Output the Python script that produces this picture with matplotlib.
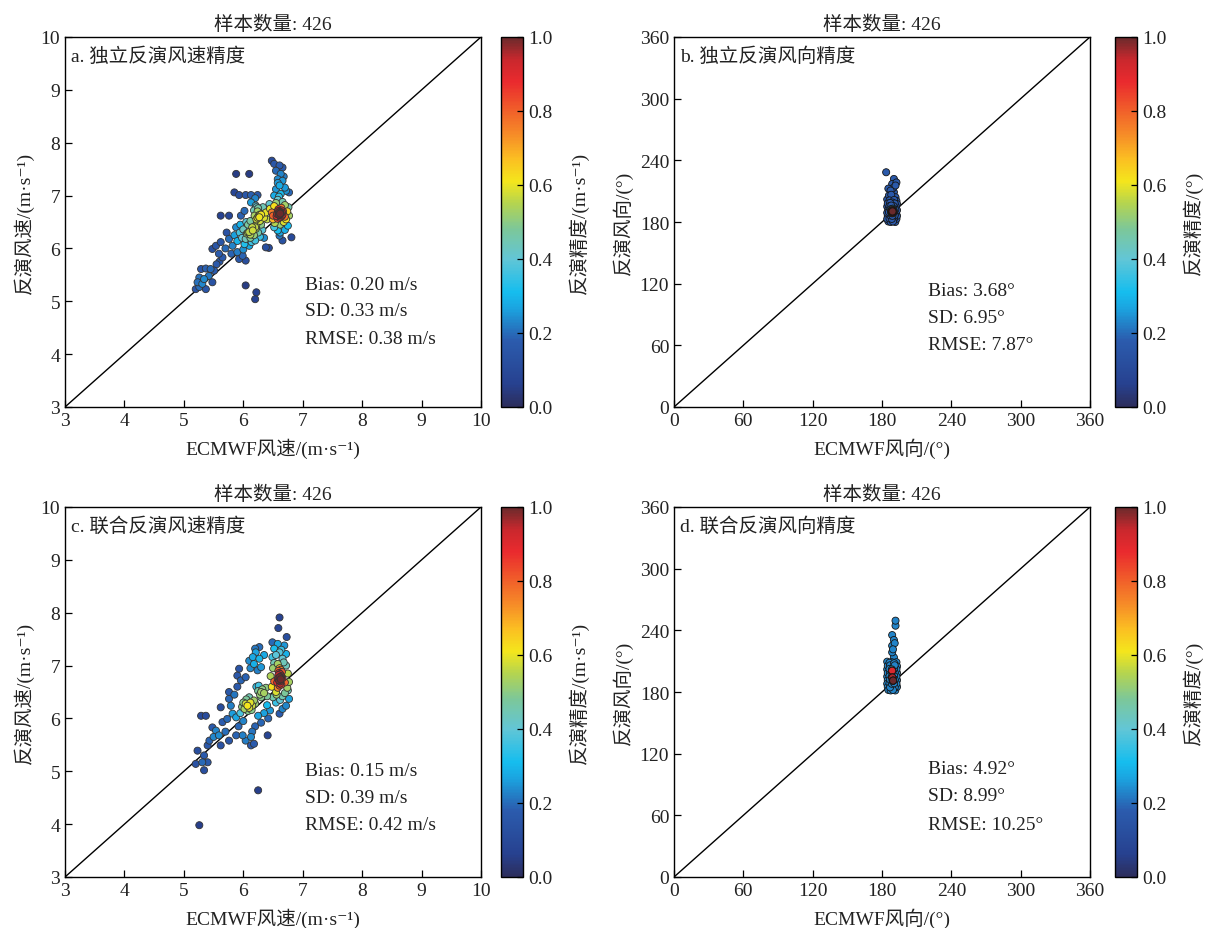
import numpy as np
import matplotlib
matplotlib.use("Agg")
import matplotlib.pyplot as plt
from matplotlib.colors import LinearSegmentedColormap, Normalize
from matplotlib.cm import ScalarMappable

plt.rcParams['font.family'] = ['Liberation Serif', 'DejaVu Serif', 'Noto Sans CJK SC']
plt.rcParams['axes.unicode_minus'] = False

# ---------------- data ----------------
# panel a: independent retrieval, wind speed (ECMWF, retrieved)
a_pts = [
    # red core
    (6.60,6.68),(6.62,6.66),(6.58,6.70),(6.64,6.72),(6.61,6.63),(6.57,6.65),(6.65,6.68),(6.63,6.60),
    (6.59,6.74),(6.66,6.64),(6.60,6.71),(6.62,6.69),(6.56,6.61),(6.67,6.70),(6.61,6.58),(6.64,6.77),
    (6.58,6.56),(6.63,6.66),(6.60,6.64),(6.65,6.62),
    # ring
    (6.52,6.80),(6.70,6.82),(6.50,6.55),(6.72,6.55),(6.55,6.86),(6.68,6.50),(6.48,6.68),(6.74,6.70),
    (6.53,6.48),(6.66,6.88),(6.58,6.92),(6.70,6.60),(6.50,6.62),(6.62,6.45),(6.45,6.75),(6.76,6.78),
    # top column
    (6.48,7.66),(6.52,7.60),(6.61,7.57),(6.66,7.53),(6.55,7.47),(6.63,7.41),(6.58,7.31),(6.66,7.28),
    (6.61,7.19),(6.55,7.12),(6.72,7.09),(6.77,7.06),(6.63,7.03),(6.52,7.00),(6.68,7.36),(6.58,7.24),
    (6.70,7.15),(6.60,6.98),
    # right side
    (6.77,6.62),(6.75,6.43),(6.81,6.21),(6.61,6.24),(6.66,6.15),(6.58,6.34),(6.70,6.35),(6.52,6.40),(6.62,6.30),
    # yellow area
    (6.21,6.81),(6.27,6.59),(6.24,6.70),(6.30,6.64),(6.19,6.62),(6.25,6.76),(6.28,6.52),(6.33,6.78),
    (6.38,6.68),(6.44,6.84),(6.13,6.87),(6.02,6.71),(5.96,6.62),(6.22,6.55),(6.35,6.58),(6.18,6.72),
    (6.40,6.55),(6.30,6.45),(6.26,6.62),(6.24,6.58),(6.28,6.64),(6.22,6.78),
    # green body
    (6.10,6.31),(6.21,6.37),(6.04,6.18),(6.12,6.20),(6.15,6.40),(6.06,6.28),(6.25,6.30),(6.00,6.36),
    (6.18,6.25),(6.08,6.45),(5.98,6.20),(6.22,6.45),(6.14,6.12),(6.02,6.08),(6.28,6.22),(5.94,6.30),
    (6.12,6.52),(6.05,6.50),(6.20,6.15),(6.32,6.35),(5.90,6.14),(6.00,5.98),(6.35,6.20),(6.10,6.05),(5.95,6.45),
    (6.08,6.30),(6.16,6.34),(6.12,6.26),(6.20,6.40),
    # lower-left band
    (5.48,5.99),(5.54,6.05),(5.59,5.90),(5.65,5.83),(5.76,6.18),(5.82,6.05),(5.90,5.93),(5.93,5.80),
    (5.99,5.86),(6.04,5.77),(6.38,6.02),(6.43,6.01),(5.70,6.00),(5.85,6.25),(5.80,5.90),(5.88,6.40),
    (5.72,6.30),(5.62,6.12),
    # row near 7.0
    (5.85,7.06),(5.93,7.01),(6.04,7.01),(6.13,7.01),(6.24,7.01),(6.20,6.95),
    # outliers
    (5.88,7.41),(6.10,7.41),(5.62,6.62),(5.76,6.62),(6.04,5.30),(6.22,5.17),(6.20,5.04),
    # lower tail
    (5.29,5.61),(5.37,5.62),(5.45,5.61),(5.51,5.58),(5.26,5.45),(5.34,5.42),(5.23,5.36),(5.31,5.33),
    (5.48,5.36),(5.26,5.27),(5.37,5.23),(5.20,5.23),(5.42,5.48),(5.55,5.70),(5.60,5.75),
]

# panel b: independent retrieval, wind direction
b_pts = [
    (183.6,228.4),(190.3,221.9),(188.8,217.0),(191.7,215.5),(187.4,210.6),(190.3,209.0),(186.0,205.8),
    (191.7,204.1),(185.5,212.5),(189.5,213.0),(192.5,218.5),(188.0,206.5),
    # dense block
    (184.5,202.0),(186.5,201.0),(188.5,202.5),(190.5,201.5),(192.5,200.5),(185.0,198.0),(187.0,198.5),
    (189.0,199.0),(191.0,198.0),(193.0,197.5),(184.5,195.0),(186.5,195.5),(188.0,196.0),(190.0,195.5),
    (192.0,195.0),(185.5,192.0),(187.5,192.5),(189.5,193.0),(191.5,192.0),(193.0,191.5),(184.5,189.0),
    (186.0,189.5),(188.0,189.0),(190.0,189.5),(192.0,189.0),(185.0,186.0),(187.0,186.5),(189.0,186.0),
    (191.0,186.5),(193.0,186.0),(184.5,183.0),(186.5,183.5),(188.5,183.0),(190.5,183.5),(192.5,183.0),
    (185.5,180.5),(187.5,180.0),(189.5,180.5),(191.5,180.0),
    # red core
    (188.8,190.0),(189.2,189.5),(188.5,190.8),(189.5,190.5),(188.9,189.0),(189.0,191.2),(188.3,189.8),
    (189.6,189.2),(188.7,191.5),(189.3,188.6),(188.6,188.5),(189.8,190.8),(188.2,191.0),(189.1,190.3),
    (188.4,192.2),(189.7,192.0),(190.2,191.0),(187.8,190.2),
]

# panel c: joint retrieval, wind speed
c_pts = [
    # red core
    (6.61,6.78),(6.63,6.74),(6.59,6.82),(6.62,6.70),(6.60,6.86),(6.64,6.80),(6.58,6.75),(6.62,6.66),
    (6.65,6.88),(6.60,6.72),(6.63,6.92),(6.57,6.68),(6.61,6.62),(6.66,6.76),(6.59,6.90),(6.62,6.84),
    (6.64,6.64),(6.58,6.58),(6.61,6.95),(6.63,6.78),
    # ring
    (6.50,6.95),(6.72,7.00),(6.48,6.60),(6.74,6.58),(6.52,7.05),(6.70,6.48),(6.46,6.80),(6.75,6.85),
    (6.55,6.50),(6.68,7.06),(6.52,6.70),(6.70,6.68),(6.56,6.45),(6.66,6.42),
    # upper right column
    (6.61,7.91),(6.59,7.71),(6.73,7.54),(6.49,7.44),(6.58,7.41),(6.69,7.38),(6.52,7.32),(6.61,7.25),
    (6.72,7.22),(6.49,7.16),(6.66,7.13),(6.58,7.03),(6.55,7.20),(6.64,7.30),
    # right
    (6.77,6.69),(6.75,6.53),(6.77,6.37),(6.72,6.24),(6.61,6.09),(6.66,6.18),(6.55,6.30),(6.62,6.35),(6.50,6.40),
    # upper left cluster
    (6.27,7.35),(6.21,7.25),(6.16,7.16),(6.27,7.13),(6.10,7.09),(6.18,7.03),(6.30,6.97),(6.24,6.91),
    (5.93,6.94),(5.90,6.81),(5.96,6.72),(6.04,6.78),(6.20,7.32),(6.35,7.20),(6.12,6.95),
    # yellow-green
    (6.30,6.50),(6.28,6.45),(6.32,6.55),(6.25,6.52),(6.35,6.48),(6.30,6.40),(6.38,6.58),(6.22,6.60),
    (6.40,6.42),(6.26,6.62),
    # green
    (6.07,6.24),(6.10,6.20),(6.04,6.28),(6.12,6.30),(6.02,6.18),(6.08,6.14),(6.15,6.24),(6.00,6.30),
    (6.05,6.36),(6.18,6.34),(6.14,6.16),(5.98,6.22),(6.20,6.28),(6.10,6.40),(5.95,6.10),
    # cyan spread
    (5.76,6.50),(5.76,6.37),(5.62,6.21),(5.79,6.24),(5.82,6.09),(5.65,5.93),(5.73,5.99),(5.88,6.02),
    (5.92,5.85),(6.00,5.95),(6.20,5.85),(6.25,6.05),(6.35,6.10),(6.40,6.25),(6.45,6.15),(6.30,5.92),
    (5.85,6.45),(5.90,6.60),(6.15,5.75),(6.42,6.00),
    # lower
    (5.29,6.05),(5.37,6.05),(5.48,5.83),(5.54,5.77),(5.59,5.68),(5.76,5.58),(5.88,5.68),(5.99,5.68),
    (6.04,5.58),(6.13,5.49),(6.18,5.52),(6.13,5.65),(6.41,5.68),(5.62,5.49),(5.43,5.58),(5.40,5.49),
    (5.23,5.39),(5.34,5.30),(5.31,5.17),(5.40,5.17),(5.34,5.02),(5.20,5.14),(5.50,5.65),(5.70,5.75),
    # outliers
    (6.25,4.64),(5.26,3.98),
]

# panel d: joint retrieval, wind direction
d_pts = [
    (191.7,249.4),(191.7,244.5),(188.8,235.4),(190.3,230.6),(188.8,225.0),(188.8,218.6),(190.3,213.7),
    (189.5,221.5),(191.0,227.5),
    # dense block
    (184.5,209.5),(186.5,208.5),(188.5,209.0),(190.5,208.0),(192.5,209.0),(185.0,205.5),(187.0,206.0),
    (189.0,205.0),(191.0,206.0),(193.0,205.0),(184.5,202.0),(186.5,202.5),(188.5,202.0),(190.5,202.5),
    (192.5,202.0),(185.0,198.5),(187.0,199.0),(189.0,198.0),(191.0,199.0),(193.0,198.5),(184.5,195.0),
    (186.5,195.5),(188.5,195.0),(190.5,195.5),(192.5,195.0),(185.0,191.5),(187.0,192.0),(189.0,191.5),
    (191.0,192.0),(193.0,191.5),(184.5,188.0),(186.5,188.5),(188.5,188.0),(190.5,188.5),(192.5,188.0),
    (185.0,185.0),(187.0,184.5),(189.0,185.0),(191.0,184.5),(193.0,185.0),(185.5,182.0),(187.5,181.5),
    (189.5,182.0),(191.5,181.5),
    # red spots
    (188.8,200.7),(189.0,200.5),(188.9,200.9),(189.0,194.0),(188.9,194.2),(189.1,193.9),(189.6,191.0),
    (189.5,190.8),(189.7,191.2),(188.9,200.6),(189.0,194.1),(189.6,191.1),
]

sample_n = 426
titles = ["a. 独立反演风速精度", "b. 独立反演风向精度", "c. 联合反演风速精度", "d. 联合反演风向精度"]
stats = [
    ["Bias: 0.20 m/s", "SD: 0.33 m/s", "RMSE: 0.38 m/s"],
    ["Bias: 3.68°", "SD: 6.95°", "RMSE: 7.87°"],
    ["Bias: 0.15 m/s", "SD: 0.39 m/s", "RMSE: 0.42 m/s"],
    ["Bias: 4.92°", "SD: 8.99°", "RMSE: 10.25°"],
]
speed_ticks = [3, 4, 5, 6, 7, 8, 9, 10]
dir_ticks = [0, 60, 120, 180, 240, 300, 360]
cbar_ticks = [0.0, 0.2, 0.4, 0.6, 0.8, 1.0]

# ---------------- style ----------------
cmap = LinearSegmentedColormap.from_list("dens", [
    (0.00, "#2c2d5c"), (0.06, "#27418f"), (0.18, "#2b5cae"), (0.27, "#1aa7e2"),
    (0.31, "#16bdee"), (0.40, "#62c6d6"), (0.48, "#7cc79a"), (0.55, "#b4d450"),
    (0.61, "#f4e61c"), (0.67, "#fbbf22"), (0.74, "#f68a28"), (0.81, "#f05a2a"),
    (0.88, "#ea2a2e"), (0.94, "#c9282d"), (1.00, "#6a2a2c"),
])
norm = Normalize(0, 1)
TXT = "#222222"
FS = 14


def density(x, y, bx, by):
    dx = (x[:, None] - x[None, :]) / bx
    dy = (y[:, None] - y[None, :]) / by
    d = np.exp(-0.5 * (dx ** 2 + dy ** 2)).sum(axis=1)
    return d / d.max()


fig = plt.figure(figsize=(12.07, 9.29), dpi=100)
W, H = 1207, 929

layout = [  # axes px box (left, top), colorbar left
    (65, 38, 501), (674, 38, 1115),
    (65, 508, 501), (674, 508, 1115),
]
panels = [
    (a_pts, "speed"), (b_pts, "dir"), (c_pts, "speed"), (d_pts, "dir"),
]
stat_pos = [
    (0.578, [0.332, 0.262, 0.184]),
    (0.61, [0.314, 0.242, 0.168]),
    (0.578, [0.289, 0.216, 0.143]),
    (0.61, [0.292, 0.219, 0.141]),
]

for i, ((pts, kind), (lx, ty, cbx)) in enumerate(zip(panels, layout)):
    ax = fig.add_axes([lx / W, 1 - (ty + 370) / H, 416 / W, 370 / H])
    cax = fig.add_axes([cbx / W, 1 - (ty + 370) / H, 22 / W, 370 / H])
    p = np.array(pts)
    x, y = p[:, 0], p[:, 1]
    if kind == "speed":
        dens = density(x, y, 0.12, 0.12)
        lo, hi, ticks = 3, 10, speed_ticks
        xl = "ECMWF风速/(m·s⁻¹)"
        yl = "反演风速/(m·s⁻¹)"
        cl = "反演精度/(m·s⁻¹)"
        ec = "#333333"
    else:
        dens = density(x, y, 0.6, 0.7)
        lo, hi, ticks = 0, 360, dir_ticks
        xl = "ECMWF风向/(°)"
        yl = "反演风向/(°)"
        cl = "反演精度/(°)"
        ec = "#151515"
    order = np.argsort(dens)
    ax.plot([lo, hi], [lo, hi], color="black", lw=1.0, zorder=1)
    ax.scatter(x[order], y[order], c=dens[order], cmap=cmap, norm=norm, s=26,
               edgecolors=ec, linewidths=0.6, zorder=2)
    ax.set_xlim(lo, hi)
    ax.set_ylim(lo, hi)
    ax.set_xticks(ticks)
    ax.set_yticks(ticks)
    ax.tick_params(direction="in", length=5, width=0.9, labelsize=FS, colors="black",
                   labelcolor=TXT, top=False, right=False)
    for s in ax.spines.values():
        s.set_linewidth(1.0)
    ax.set_xlabel(xl, fontsize=FS, color=TXT, labelpad=6)
    ax.set_ylabel(yl, fontsize=FS, color=TXT, labelpad=5)
    ax.set_title(f"样本数量: {sample_n}", fontsize=FS, color=TXT, pad=6)
    ax.text(0.015, 0.949, titles[i], transform=ax.transAxes, fontsize=FS, color=TXT,
            ha="left", va="center")
    sx, sys_ = stat_pos[i]
    for txt, yy in zip(stats[i], sys_):
        ax.text(sx, yy, txt, transform=ax.transAxes, fontsize=FS, color=TXT,
                ha="left", va="center")

    cb = fig.colorbar(ScalarMappable(norm=norm, cmap=cmap), cax=cax)
    cb.set_ticks(cbar_ticks)
    cb.set_ticklabels([f"{t:.1f}" for t in cbar_ticks])
    cb.ax.tick_params(direction="in", length=4, width=0.9, labelsize=FS, labelcolor=TXT)
    cb.outline.set_linewidth(1.0)
    cb.set_label(cl, fontsize=FS, color=TXT, labelpad=12)

fig.savefig("out.png", dpi=100)
